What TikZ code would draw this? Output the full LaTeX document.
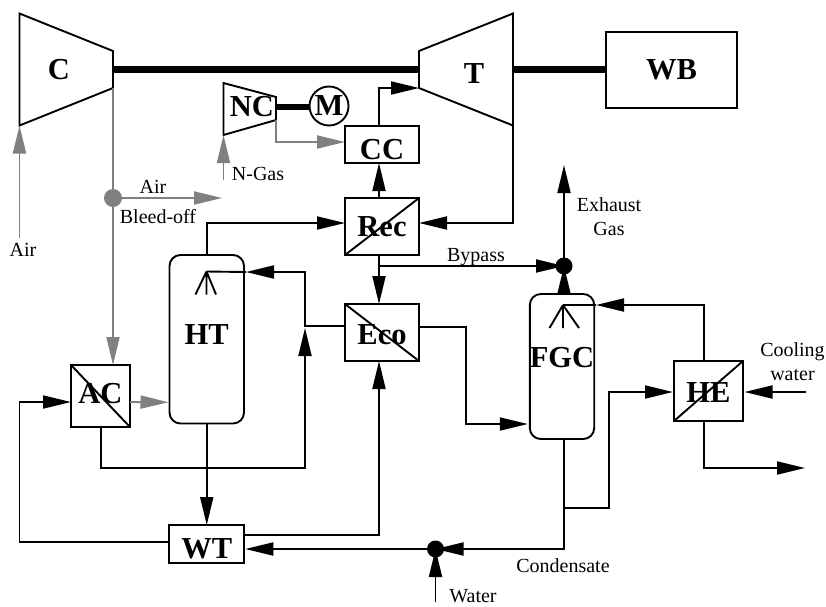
\documentclass[tikz,border=0pt]{standalone}
\usepackage{fontspec}
\setmainfont{Liberation Serif}
\usetikzlibrary{arrows.meta}
\pgfdeclarelayer{fg}
\pgfsetlayers{main,fg}
\definecolor{flowgray}{HTML}{808080}
\tikzset{
  every node/.style={inner sep=0pt,outer sep=0pt},
  lw/.style={line width=1.9pt},
  bold/.style={font=\fontsize{30.5}{30}\selectfont\bfseries},
  small/.style={font=\fontsize{20}{24}\selectfont,align=center},
  txy/.style 2 args={text height=#1pt,text depth=#2pt},
  unit/.style={draw,lw,rectangle,bold},
  vessel/.style={draw,lw,rectangle,rounded corners=11pt,bold},
  junction/.style={circle,fill=black,minimum size=17pt},
  shaft/.style={line width=7pt},
  flow/.style={lw,-{Triangle[length=28pt,width=13pt]}},
  gflow/.style={lw,draw=flowgray,-{Triangle[length=28pt,width=13pt,fill=flowgray]}},
  plainline/.style={lw},
}
\begin{document}
\begin{tikzpicture}[x=1pt,y=-1pt]
\useasboundingbox (0,0) rectangle (826,606);

% turbomachines
\coordinate (cUL) at (19.5,13.5); \coordinate (cUR) at (113,51);
\coordinate (cLR) at (113,88);    \coordinate (cLL) at (19.5,125.5);
\coordinate (tUL) at (419,51);    \coordinate (tUR) at (513,13.5);
\coordinate (tLR) at (513,125.5); \coordinate (tLL) at (419,88);
\coordinate (nUL) at (223.5,83);  \coordinate (nUR) at (276,97);
\coordinate (nLR) at (276,120);   \coordinate (nLL) at (223.5,135);
\draw[lw,line join=miter] (cUL)--(cUR)--(cLR)--(cLL)--cycle;
\draw[lw,line join=miter] (tUL)--(tUR)--(tLR)--(tLL)--cycle;
\draw[lw,line join=miter] (nUL)--(nUR)--(nLR)--(nLL)--cycle;
\node[bold] (c) at (59,70) {C};
\node[bold] (t) at (474,74) {T};
\node[bold] (nc) at (252,107) {NC};
\node[circle,draw,lw,minimum size=39pt,bold] (m) at (329,106) {M};

% units
\node[unit,minimum width=131pt,minimum height=76pt,txy={20}{2}] (wb) at (671.5,70) {WB};
\node[unit,minimum width=74pt,minimum height=37pt,txy={29}{0}] (cc) at (382,144.5) {CC};
\node[unit,minimum width=74pt,minimum height=57pt,txy={20}{0}] (rec) at (382,226.5) {Rec};
\node[unit,minimum width=74pt,minimum height=57pt,txy={23}{0}] (eco) at (382,332.5) {Eco};
\node[unit,minimum width=59pt,minimum height=62pt,txy={20}{6}] (ac) at (100.5,396) {AC};
\node[unit,minimum width=75pt,minimum height=38pt,txy={28}{0}] (wt) at (206.75,544) {WT};
\node[unit,minimum width=69pt,minimum height=60pt,txy={22}{0}] (he) at (708.5,391) {HE};
\node[vessel,minimum width=74.5pt,minimum height=168.5pt,txy={20}{10}] (ht) at (206.75,339.25) {HT};
\node[vessel,minimum width=64pt,minimum height=145pt,txy={20}{19}] (fgc) at (562,366.5) {FGC};

% heat-exchanger diagonals
\draw[lw] (rec.south west)--(rec.north east);
\draw[lw] (eco.north west)--(eco.south east);
\draw[lw] (ac.north west)--(ac.south east);
\draw[lw] (he.south west)--(he.north east);

% junctions (on top of the arrow tips)
\begin{pgfonlayer}{fg}
\node[junction] (d1) at (564,266) {};
\node[junction] (d2) at (435.5,549) {};
\node[junction,fill=flowgray,minimum size=18pt] (d3) at (113,198) {};
\end{pgfonlayer}

% shafts
\draw[shaft] (113,69) -- (tUL |- 0,69);
\draw[shaft] (513,69) -- (wb.west |- 0,69);
\draw[line width=5.5pt] (276,107) -- (m.west |- 0,107);

% gray air / gas flows
\coordinate (airin) at (19.5,238);
\coordinate (ngasin) at (223.5,180);
\coordinate (bleed) at (222,198);
\draw[gflow] (airin) -- (cLL);
\draw[gflow] (ngasin) -- (nLL);
\draw[gflow] (cLR) -- ([xshift=12.5pt]ac.north);
\draw[gflow] (d3.center) -- (bleed);
\draw[gflow] (nLR) |- ([yshift=2.5pt]cc.west);
\draw[gflow] ([yshift=-6pt]ac.east) -- ([yshift=-63pt,xshift=-1pt]ht.west);

% black flows
\coordinate (byp) at (379,266);
\coordinate (htap) at (206.5,271.5);
\coordinate (htport) at (246,272);
\coordinate (j1) at (305,272);
\coordinate (j2) at (305,468);
\coordinate (j3) at (466,424);
\coordinate (j4) at (19.5,402);
\coordinate (j5) at (564,508);
\coordinate (j6) at (609,392);
\coordinate (j7) at (564,549);
\coordinate (fgcap) at (563,305);
\coordinate (fgcport) at (596,305);
\coordinate (exh) at (564,165);
\coordinate (waterin) at (435.5,602);
\coordinate (cwin) at (806,392);
\coordinate (cwout) at (805,468);
\coordinate (j8) at (305,328);

\draw[flow] ([xshift=-3pt]cc.north) |- (tLL);
\draw[flow] ([xshift=-3pt]rec.north) -- ([xshift=-3pt]cc.south);
\draw[flow] (ht.north) |- ([yshift=3.5pt]rec.west);
\draw[flow] (tLR) |- ([yshift=3.5pt]rec.east);
\draw[flow] ([xshift=-3pt]rec.south) -- ([xshift=-3pt]eco.north);
\draw[flow] (byp) -- (d1.center);
\draw[flow] (d1.center) -- (exh);
\draw[flow] ([xshift=2pt]fgc.north) -- (d1.center);
\draw[flow] ([yshift=6.5pt]eco.west) -| (j1) -- (htport);
\draw[plainline] (htport) -- (htap);
\draw[flow] ([xshift=.5pt]ac.south) |- (j2) -- (j8);
\draw[flow] (ht.south) -- (wt.north);
\draw[flow] ([yshift=2pt]wt.west) -| (j4) -- ([yshift=-6pt]ac.west);
\draw[flow] ([yshift=9pt]wt.east) -| ([xshift=-3pt]eco.south);
\draw[flow] (d2.center) -- ([yshift=-5pt,xshift=1pt]wt.east);
\draw[flow] ([xshift=2pt]fgc.south) -- (j7) -- (d2.center);
\draw[flow] (waterin) -- (d2.center);
\draw[flow] ([yshift=5.5pt]eco.east) -| (j3) -- ([yshift=-57.5pt,xshift=-2pt]fgc.west);
\draw[flow] (j5) -| (j6) -- ([yshift=-1pt,xshift=-1pt]he.west);
\draw[flow] ([xshift=-4.5pt]he.north) |- (fgcport);
\draw[plainline] (fgcport) -- (fgcap);
\draw[flow] (cwin) -- ([yshift=-1pt,xshift=1.5pt]he.east);
\draw[flow] ([xshift=-4.5pt]he.south) |- (cwout);

% spray nozzles
\draw[lw] (htap) -- ++(-11,23) (htap) -- ++(0,23) (htap) -- ++(9.5,23);
\draw[lw] (fgcap) -- ++(-13.5,23) (fgcap) -- ++(0,23) (fgcap) -- ++(16,23);

% stream labels
\node[small] (lair) at (23,250) {Air};
\node[small] (lair2) at (153,187) {Air};
\node[small] (lbleed) at (158,217) {Bleed-off};
\node[small] (lngas) at (258,174) {N-Gas};
\node[small] (lbyp) at (476,257) {Bypass};
\node[small] (lexh) at (609,217) {Exhaust\\Gas};
\node[small] (lcool) at (792.5,362) {Cooling\\water};
\node[small] (lcond) at (563,566) {Condensate};
\node[small] (lwater) at (473,596) {Water};
\end{tikzpicture}
\end{document}
